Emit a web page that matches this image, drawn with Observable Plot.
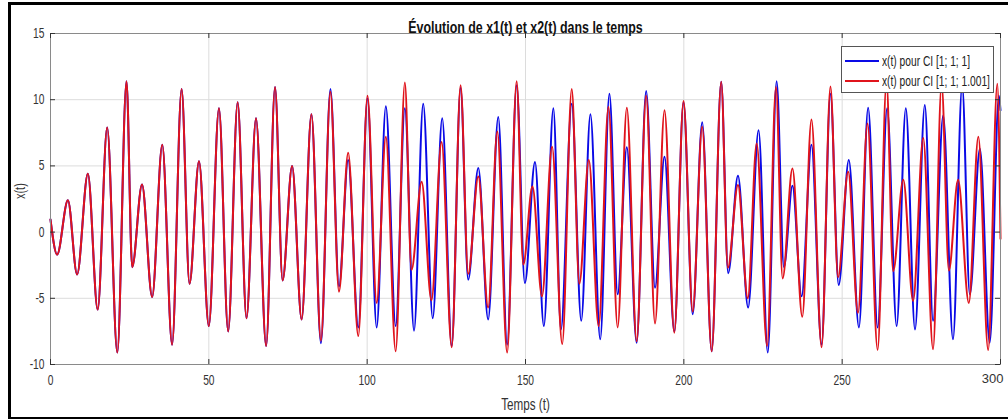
<!DOCTYPE html>
<html>
<head>
<meta charset="utf-8">
<script src="https://cdn.jsdelivr.net/npm/d3@7"></script>
<script src="https://cdn.jsdelivr.net/npm/@observablehq/plot@0.6"></script>
<style>
  html, body { margin: 0; padding: 0; background: #fff; }
  #wrap { position: relative; width: 1008px; height: 419px; overflow: hidden; font-family: "Liberation Sans", Arial, sans-serif; }
  #border { position: absolute; left: 8px; top: 2px; width: 1010px; height: 412px; border: 3px solid #000; border-right: none; pointer-events: none; }
  #legend { position: absolute; left: 841px; top: 46px; width: 151px; height: 45px; border: 1px solid #555; background: #fff; font-size: 14px; color: #222; }
  .item { position: absolute; left: 3px; height: 16px; display: flex; align-items: center; white-space: nowrap; }
  .item span.sw { display: inline-block; width: 34px; height: 0; border-top: 2px solid; margin-right: 3px; }
  .item span.tx { display: inline-block; transform-origin: left center; transform: scaleX(0.73); }
</style>
</head>
<body>
<div id="wrap">
  <div id="chart"></div>
  <div id="legend"></div>
  <div id="border"></div>
</div>
<script>
// Shared part (both initial conditions coincide), extrema
const commonT = [0, 2.1, 5.5, 8.4, 11.8, 14.9, 17.9, 21.1, 24.0, 25.8, 28.9, 32.1, 35.3, 38.4, 41.4, 43.9, 46.9, 50.0, 53.2, 56.1, 59.1, 61.9, 64.9, 68.1, 70.9, 73.3, 76.3, 79.3, 82.4];
const commonV = [0.95, -1.7, 2.4, -3.2, 4.4, -5.85, 7.9, -9.1, 11.4, -2.65, 3.6, -4.9, 6.6, -8.5, 10.8, -3.9, 5.35, -7.1, 9.35, -7.5, 9.8, -6.5, 8.6, -8.6, 10.95, -3.65, 5.0, -6.6, 8.9];

// Series 1: CI [1; 1; 1] (blue), after divergence
const blueT = [85.4, 88.4, 91.1, 94.0, 97.2, 100.1, 103.0, 105.9, 109.0, 111.9, 114.8, 117.7, 120.7, 123.7, 126.7, 129.5, 131.9, 135.1, 138.2, 141.4, 144.2, 147.2, 149.8, 153.0, 155.8, 158.8, 161.2, 164.6, 167.6, 170.5, 173.6, 176.5, 179.1, 182.0, 185.1, 188.1, 190.9, 193.9, 197.0, 199.9, 202.8, 205.8, 208.8, 211.8, 214.0, 217.1, 220.3, 223.6, 226.5, 229.3, 231.6, 234.3, 237.2, 240.3, 243.5, 246.3, 248.9, 252.1, 255.3, 258.2, 261.2, 264.2, 267.2, 270.1, 273.0, 276.1, 278.7, 281.9, 285.0, 287.9, 290.3, 293.5, 296.6, 299.5, 300];
const blueV = [-8.4, 10.8, -4.1, 5.45, -7.2, 10.1, -7.2, 9.5, -7.1, 9.35, -7.45, 9.7, -6.5, 8.6, -8.6, 10.9, -3.6, 4.85, -6.6, 8.7, -8.5, 11.1, -3.85, 5.3, -7.1, 9.35, -7.35, 9.7, -6.7, 8.9, -8.1, 10.45, -4.7, 6.4, -8.35, 10.65, -4.2, 5.7, -7.5, 9.8, -6.2, 8.3, -9.0, 11.35, -3.1, 4.25, -5.7, 7.7, -9.1, 11.4, -2.65, 3.5, -4.85, 6.6, -8.5, 10.45, -4.0, 5.45, -7.2, 9.4, -7.2, 9.35, -7.1, 9.35, -7.35, 9.6, -6.7, 8.8, -8.1, 11.1, -4.7, 6.3, -8.35, 10.3, 9.2];

// Series 2: CI [1; 1; 1.001] (red), after divergence
const redT = [85.4, 88.4, 91.1, 94.0, 97.2, 100.1, 103.0, 105.9, 109.0, 111.9, 114.0, 117.2, 120.3, 123.5, 126.7, 129.5, 131.9, 135.1, 138.2, 141.1, 144.2, 147.2, 149.3, 152.2, 155.2, 158.4, 161.6, 164.6, 167.0, 170.0, 173.1, 176.2, 179.1, 182.0, 185.1, 188.1, 190.9, 193.9, 197.0, 199.9, 202.8, 205.8, 208.8, 211.8, 213.9, 217.1, 220.2, 223.0, 226.3, 229.1, 231.2, 234.3, 237.4, 240.3, 243.5, 246.3, 248.7, 251.9, 255.0, 258.0, 261.2, 264.0, 266.1, 269.3, 272.4, 275.6, 278.7, 281.4, 283.7, 286.6, 290.0, 293.0, 296.1, 299.0, 300];
const redV = [-8.2, 10.6, -4.5, 6.0, -7.85, 10.3, -5.35, 7.2, -9.0, 11.3, -2.85, 3.8, -5.15, 6.8, -8.7, 11.1, -3.15, 4.2, -5.7, 7.6, -9.1, 11.4, -2.45, 3.45, -4.85, 6.45, -8.45, 10.8, -3.9, 5.45, -7.1, 9.45, -7.2, 9.4, -8.25, 10.3, -6.9, 9.2, -7.6, 9.9, -6.0, 7.95, -9.0, 11.35, -2.7, 3.55, -5.0, 6.7, -8.6, 10.95, -3.5, 4.8, -6.4, 8.5, -8.7, 11.0, -3.4, 4.55, -6.1, 8.2, -8.9, 11.35, -2.95, 3.95, -5.2, 7.1, -8.85, 11.2, -2.9, 3.95, -5.35, 7.2, -8.9, 11.2, -0.5];

const xTicks = [0, 50, 100, 150, 200, 250, 300];
const yTicks = [-10, -5, 0, 5, 10, 15];
const seriesNames = ["x(t) pour CI [1; 1; 1]", "x(t) pour CI [1; 1; 1.001]"];
const seriesColors = ["#0a0ae6", "#e0141c"];
const titleText = "Évolution de x1(t) et x2(t) dans le temps";
const xLabel = "Temps (t)";
const yLabel = "x(t)";

const toRows = (ts, vs) => ts.map((t, i) => ({t, v: vs[i]}));
const blueData = toRows(commonT.concat(blueT), commonV.concat(blueV));
const redData = toRows(commonT.concat(redT), commonV.concat(redV));

const W = 1008, H = 419, mT = 33, mB = 55, mL = 50, mR = 8;
const innerH = H - mT - mB, innerW = W - mL - mR;
const lastTick = xTicks[xTicks.length - 1];
const fmt = d => String(d);

const chart = Plot.plot({
  width: W, height: H,
  marginTop: mT, marginBottom: mB, marginLeft: mL, marginRight: mR,
  style: {fontFamily: '"Liberation Sans", Arial, sans-serif', fontSize: "14px", color: "#333", background: "transparent"},
  x: {domain: [0, 300]},
  y: {domain: [-10, 15]},
  marks: [
    Plot.gridX(xTicks, {stroke: "#dcdcdc", strokeOpacity: 1}),
    Plot.gridY(yTicks, {stroke: "#dcdcdc", strokeOpacity: 1}),
    Plot.line(blueData, {x: "t", y: "v", stroke: seriesColors[0], strokeWidth: 2, curve: "monotone-x"}),
    Plot.line(redData, {x: "t", y: "v", stroke: seriesColors[1], strokeWidth: 2, curve: "monotone-x"}),
    Plot.frame({stroke: "#8a8a8a"}),
    Plot.ruleX(xTicks, {x: d => d, stroke: "#333", insetTop: innerH - 5}),
    Plot.ruleX(xTicks, {x: d => d, stroke: "#333", insetBottom: innerH - 5}),
    Plot.ruleY(yTicks, {y: d => d, stroke: "#333", insetRight: innerW - 5}),
    Plot.ruleY(yTicks, {y: d => d, stroke: "#333", insetLeft: innerW - 5}),
    Plot.axisX(xTicks.filter(d => d !== lastTick), {tickSize: 0, tickPadding: 11, label: null, fill: "#333", tickFormat: fmt}),
    Plot.text([lastTick], {x: d => d, frameAnchor: "bottom", dy: 18, dx: 3, textAnchor: "end", fill: "#333", fontSize: 13, className: "keepwidth"}),
    Plot.axisY(yTicks, {tickSize: 0, tickPadding: 6, label: null, fill: "#333", tickFormat: fmt}),
    Plot.text([xLabel], {frameAnchor: "bottom", dy: 45, fontSize: 16, fill: "#333"}),
    Plot.text([yLabel], {frameAnchor: "left", dx: -30, rotate: -90, fontSize: 15, fill: "#333"}),
    Plot.text([titleText], {frameAnchor: "top", dy: -13, fontSize: 17, fontWeight: "bold", fill: "#111"})
  ]
});
document.getElementById("chart").appendChild(chart);

// condense texts horizontally (reference uses a narrow typeface)
chart.querySelectorAll("text").forEach(t => {
  if (t.closest(".keepwidth")) return;
  const w = t.getComputedTextLength();
  if (w > 0) {
    t.setAttribute("textLength", (w * 0.73).toFixed(1));
    t.setAttribute("lengthAdjust", "spacingAndGlyphs");
  }
});

const legend = document.getElementById("legend");
seriesNames.forEach((name, i) => {
  const it = document.createElement("div");
  it.className = "item";
  it.style.top = (6 + i * 20) + "px";
  const sw = document.createElement("span");
  sw.className = "sw";
  sw.style.borderTopColor = seriesColors[i];
  const tx = document.createElement("span");
  tx.className = "tx";
  tx.textContent = name;
  it.appendChild(sw);
  it.appendChild(tx);
  legend.appendChild(it);
});
</script>
</body>
</html>
